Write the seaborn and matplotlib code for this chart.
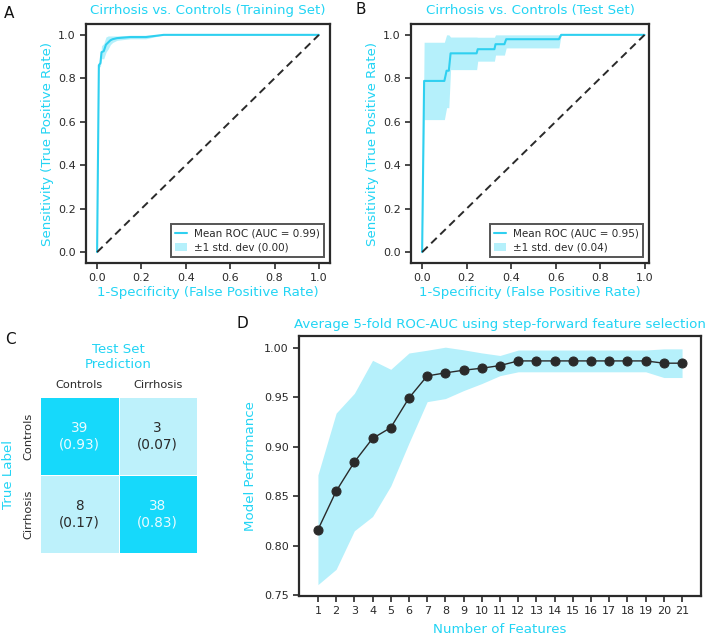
import numpy as np
import pandas as pd
import matplotlib
matplotlib.use("Agg")
import matplotlib.pyplot as plt
from matplotlib.colors import ListedColormap, BoundaryNorm
from matplotlib.patches import Patch
from matplotlib.lines import Line2D
import seaborn as sns

# ---------------- data ----------------
# Panel A: mean ROC (training set)
fpr_train = [0.0, 0.008, 0.015, 0.02, 0.03, 0.04, 0.05, 0.06, 0.07, 0.09, 0.15, 0.22, 0.30, 1.0]
tpr_train = [0.0, 0.86, 0.87, 0.92, 0.925, 0.955, 0.965, 0.975, 0.98, 0.985, 0.99, 0.99, 1.0, 1.0]
std_train = [0.0, 0.01, 0.015, 0.03, 0.035, 0.035, 0.03, 0.02, 0.015, 0.01, 0.008, 0.008, 0.0, 0.0]
auc_train, auc_std_train = 0.99, 0.00

# Panel B: mean ROC (test set)
fpr_test = [0.0, 0.009, 0.10, 0.11, 0.12, 0.128, 0.245, 0.25, 0.325, 0.33, 0.37, 0.378, 0.615, 0.625, 1.0]
tpr_test = [0.0, 0.788, 0.788, 0.835, 0.835, 0.915, 0.915, 0.934, 0.934, 0.957, 0.957, 0.98, 0.98, 1.0, 1.0]
std_test = [0.0, 0.178, 0.178, 0.17, 0.17, 0.075, 0.075, 0.055, 0.055, 0.05, 0.05, 0.04, 0.04, 0.0, 0.0]
auc_test, auc_std_test = 0.95, 0.04

# Panel C: confusion matrix (test set)
cm_labels = ["Controls", "Cirrhosis"]
cm_counts = [[39, 3], [8, 38]]
cm_frac = [[0.93, 0.07], [0.17, 0.83]]

# Panel D: step-forward feature selection
n_features = list(range(1, 22))
mean_auc = [0.816, 0.855, 0.8845, 0.9084, 0.9193, 0.9493, 0.9716, 0.9747, 0.9774, 0.9794, 0.9821,
            0.9868, 0.9868, 0.9868, 0.9868, 0.9868, 0.9868, 0.9868, 0.9868, 0.9845, 0.9845]
std_auc = [0.0555, 0.079, 0.0695, 0.079, 0.059, 0.0455, 0.026, 0.026, 0.0206, 0.0155, 0.0102,
           0.011, 0.011, 0.011, 0.011, 0.011, 0.011, 0.011, 0.011, 0.0145, 0.0145]

# ---------------- style ----------------
sns.set_theme(style="ticks")
plt.rcParams["font.family"] = ["DejaVu Sans"]
CYAN = "#22d4f4"
LINE = "#2fd0f0"
FILL = "#b5f0fb"
DARK = "#2a2a2a"
plt.rcParams.update({
    "axes.edgecolor": DARK, "axes.linewidth": 1.6,
    "xtick.color": DARK, "ytick.color": DARK,
    "xtick.labelcolor": DARK, "ytick.labelcolor": DARK,
    "xtick.major.size": 4, "ytick.major.size": 4,
    "xtick.major.width": 1.2, "ytick.major.width": 1.2,
    "xtick.labelsize": 8, "ytick.labelsize": 8,
})

W, H = 708, 640
fig = plt.figure(figsize=(W / 100, H / 100), dpi=100)
LBL = 9.6


def ax_px(x0, y0, x1, y1):
    return fig.add_axes([x0 / W, 1 - y1 / H, (x1 - x0) / W, (y1 - y0) / H])


def roc_panel(ax, fpr, tpr, std, auc, auc_std, title, xlim):
    fpr = np.asarray(fpr); tpr = np.asarray(tpr); std = np.asarray(std)
    upper = np.minimum(tpr + std, 1)
    lower = np.maximum(tpr - std, 0)
    ax.fill_between(fpr, lower, upper, color=FILL, lw=0)
    df = pd.DataFrame({"fpr": fpr, "tpr": tpr})
    sns.lineplot(data=df, x="fpr", y="tpr", sort=False, estimator=None, ax=ax,
                 color=LINE, lw=1.5)
    ax.plot([0, 1], [0, 1], ls=(0, (4, 2.5)), color=DARK, lw=1.4)
    ax.set_xlim(*xlim)
    ax.set_ylim(-0.05, 1.05)
    ax.set_xticks([0, 0.2, 0.4, 0.6, 0.8, 1.0])
    ax.set_yticks([0, 0.2, 0.4, 0.6, 0.8, 1.0])
    ax.set_xticklabels([f"{v:.1f}" for v in ax.get_xticks()])
    ax.set_yticklabels([f"{v:.1f}" for v in ax.get_yticks()])
    ax.set_xlabel("1-Specificity (False Positive Rate)", color=CYAN, fontsize=LBL, labelpad=2)
    ax.set_ylabel("Sensitivity (True Positive Rate)", color=CYAN, fontsize=LBL, labelpad=3)
    ax.set_title(title, color=CYAN, fontsize=LBL, pad=7)
    handles = [Line2D([0], [0], color=LINE, lw=1.5),
               Patch(facecolor=FILL, edgecolor="none")]
    labels = [f"Mean ROC (AUC = {auc:.2f})", f"\u00b11 std. dev ({auc_std:.2f})"]
    leg = ax.legend(handles, labels, loc="lower right", fontsize=7.5, frameon=True,
                    fancybox=False, edgecolor=DARK, borderaxespad=0.6,
                    handlelength=1.2, handletextpad=0.6, labelspacing=0.4)
    leg.get_frame().set_linewidth(1.4)
    for t in leg.get_texts():
        t.set_color(DARK)


# Panel A
axA = ax_px(86, 24, 330, 263)
roc_panel(axA, fpr_train, tpr_train, std_train, auc_train, auc_std_train,
          "Cirrhosis vs. Controls (Training Set)", (-0.05, 1.05))

# Panel B
axB = ax_px(411, 24, 649, 263)
roc_panel(axB, fpr_test, tpr_test, std_test, auc_test, auc_std_test,
          "Cirrhosis vs. Controls (Test Set)", (-0.05, 1.02))

# Panel C
axC = ax_px(40, 397, 197, 553)
cm_df = pd.DataFrame(cm_frac, index=cm_labels, columns=cm_labels)
annot = np.array([[f"{cm_counts[i][j]}\n({cm_frac[i][j]:.2f})" for j in range(2)] for i in range(2)])
cmap = ListedColormap(["#bdf1fb", "#16d9fb"])
norm = BoundaryNorm([0, 0.5, 1], 2)
sns.heatmap(cm_df, annot=annot, fmt="", cmap=cmap, norm=norm, cbar=False, ax=axC,
            linewidths=0.5, linecolor="white", annot_kws={"fontsize": 9.8})
for t, (i, j) in zip(axC.texts, [(0, 0), (0, 1), (1, 0), (1, 1)]):
    t.set_color("#e9fbff" if cm_frac[i][j] > 0.5 else DARK)
    t.set_linespacing(1.2)
axC.xaxis.tick_top()
axC.xaxis.set_label_position("top")
axC.tick_params(length=0, labelsize=8.2, labelcolor=DARK, pad=5)
axC.set_yticklabels(cm_labels, rotation=90, va="center")
axC.set_xticklabels(cm_labels, rotation=0)
axC.set_xlabel("Test Set\nPrediction", color=CYAN, fontsize=LBL, labelpad=9)
axC.set_ylabel("True Label", color=CYAN, fontsize=LBL, labelpad=6)

# Panel D
axD = ax_px(299, 336, 701, 596)
lower = np.array(mean_auc) - np.array(std_auc)
upper = np.array(mean_auc) + np.array(std_auc)
axD.fill_between(n_features, lower, upper, color=FILL, lw=0)
sns.lineplot(x=n_features, y=mean_auc, ax=axD, color=DARK, lw=1.0, marker="o",
             markersize=6.5, markeredgecolor=DARK, markerfacecolor=DARK)
axD.set_xlim(-0.04, 22.04)
axD.set_ylim(0.749, 1.012)
axD.set_xticks(n_features)
axD.set_yticks([0.75, 0.80, 0.85, 0.90, 0.95, 1.00])
axD.set_yticklabels([f"{v:.2f}" for v in [0.75, 0.80, 0.85, 0.90, 0.95, 1.00]])
axD.set_xlabel("Number of Features", color=CYAN, fontsize=LBL, labelpad=5)
axD.set_ylabel("Model Performance", color=CYAN, fontsize=LBL, labelpad=5)
axD.set_title("Average 5-fold ROC-AUC using step-forward feature selection",
              color=CYAN, fontsize=LBL, pad=6)

# Panel letters
for letter, x, y in [("A", 9, 13), ("B", 361, 9), ("C", 10, 339), ("D", 242, 324)]:
    fig.text(x / W, 1 - y / H, letter, fontsize=11, color="#111", ha="center", va="center")

fig.savefig("out.png", dpi=100)
